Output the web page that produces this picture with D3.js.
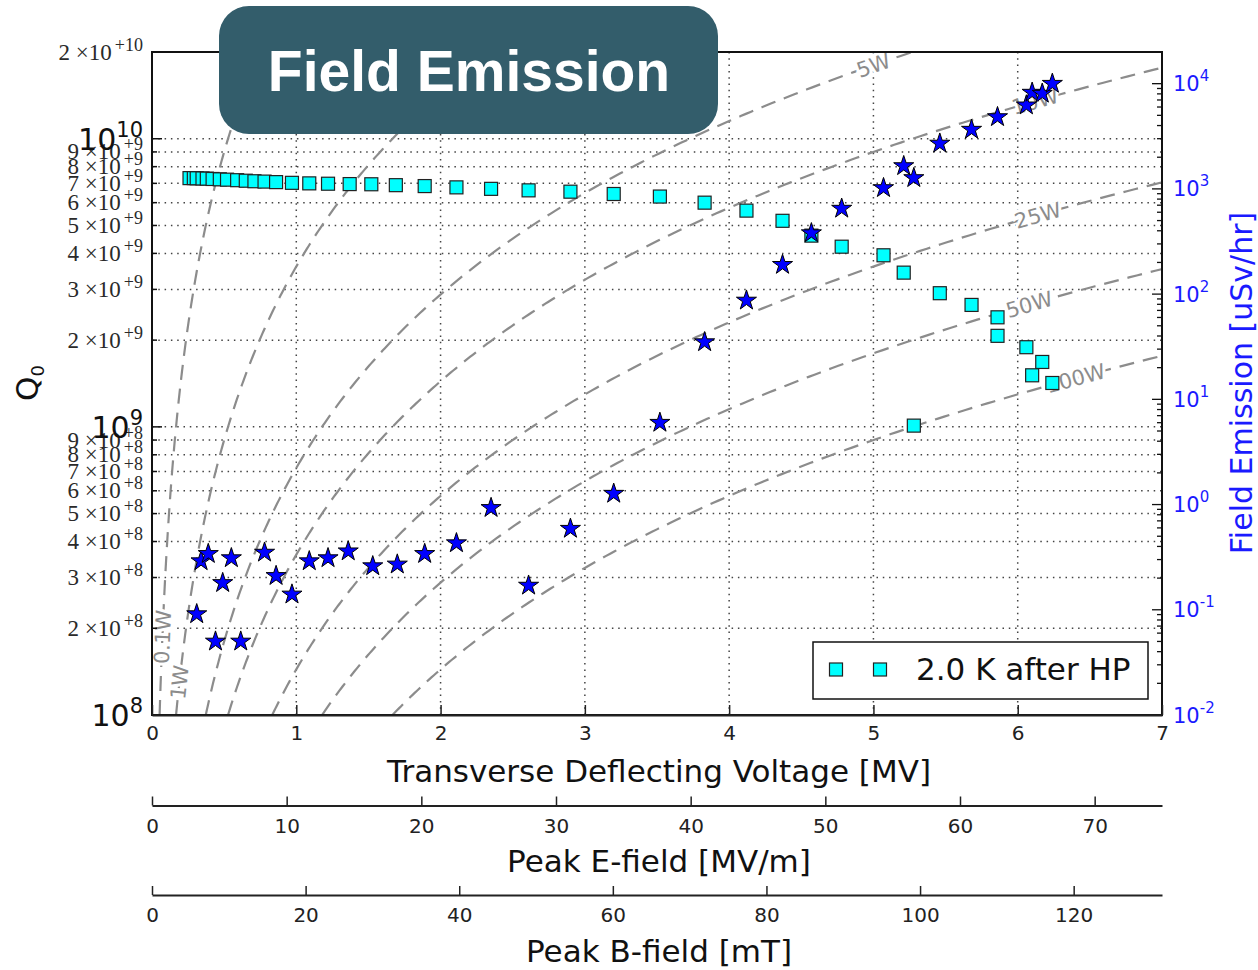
<!DOCTYPE html>
<html lang="en">
<head>
<meta charset="UTF-8" />
<script src="https://d3js.org/d3.v7.min.js"></script>
<title>Field Emission</title>
<style>
  body { margin: 0; background: #fff; }
  text { font-family: "DejaVu Sans", sans-serif; }
</style>
</head>
<body>
<script>
var width = 1258, height = 970;
var L = 152, R = 1162, T = 52, B = 715;

// Q0 measured at 2.0 K after HP (squares, left axis)
var qVolt = [0.26, 0.29, 0.31, 0.35, 0.38, 0.42, 0.47, 0.52, 0.59, 0.65, 0.71, 0.78, 0.86,
             0.97, 1.09, 1.22, 1.37, 1.52, 1.69, 1.89, 2.11, 2.35, 2.61, 2.90, 3.20, 3.52,
             3.83, 4.12, 4.37, 4.57, 4.78, 5.07, 5.21, 5.46, 5.68, 5.86, 5.86, 6.06, 6.17,
             6.10, 6.24, 5.28];
var qVal = [7.30e9, 7.30e9, 7.29e9, 7.28e9, 7.27e9, 7.25e9, 7.23e9, 7.21e9, 7.18e9, 7.15e9, 7.12e9, 7.10e9, 7.07e9,
            7.03e9, 7.00e9, 6.98e9, 6.96e9, 6.95e9, 6.90e9, 6.85e9, 6.78e9, 6.70e9, 6.62e9, 6.55e9, 6.43e9, 6.30e9,
            6.00e9, 5.63e9, 5.19e9, 4.61e9, 4.22e9, 3.94e9, 3.43e9, 2.91e9, 2.65e9, 2.40e9, 2.07e9, 1.89e9, 1.68e9,
            1.51e9, 1.42e9, 1.01e9];

// field emission radiation (stars, right axis)
var feVolt = [0.31, 0.34, 0.39, 0.44, 0.49, 0.55, 0.615, 0.78, 0.86, 0.97, 1.09, 1.22, 1.36,
              1.53, 1.70, 1.89, 2.11, 2.35, 2.61, 2.90, 3.20, 3.52, 3.83, 4.12, 4.37, 4.57,
              4.78, 5.07, 5.21, 5.28, 5.46, 5.68, 5.86, 6.06, 6.10, 6.17, 6.24];
var feVal = [0.091, 0.29, 0.34, 0.050, 0.18, 0.31, 0.050, 0.35, 0.21, 0.14, 0.29, 0.31, 0.36,
             0.26, 0.27, 0.34, 0.43, 0.93, 0.17, 0.59, 1.27, 6.0, 35, 87, 190, 380,
             650, 1020, 1650, 1270, 2700, 3660, 4820, 6230, 8230, 8050, 10000];

// iso-power lines: Q0 = kQ * V^2 / P
var powerLevels = [0.1, 1, 5, 10, 25, 50, 100];
var powerNames = ["0.1W", "1W", "5W", "10W", "25W", "50W", "100W"];
var labelVolt = [0.072, 0.19, 5.0, 6.12, 6.14, 6.08, 6.40];
var kQ = 3.6e9;

var voltTicks = [0, 1, 2, 3, 4, 5, 6, 7];
var eTicks = [0, 10, 20, 30, 40, 50, 60, 70];
var bTicks = [0, 20, 40, 60, 80, 100, 120];
var feTicks = [1e-2, 1e-1, 1e0, 1e1, 1e2, 1e3, 1e4];
var legendLabel = "2.0 K after HP";

var svg = d3.select("body").append("svg").attr("width", width).attr("height", height);

var x = d3.scaleLinear().domain([0, 7]).range([L, R]);
var xE = d3.scaleLinear().domain([0, 75]).range([L, R]);
var xB = d3.scaleLinear().domain([0, 131.5]).range([L, R]);
var yQ = d3.scaleLog().domain([1e8, 2e10]).range([B, T]);
var yF = d3.scaleLog().domain([1e-2, 2e4]).range([B, T]);

svg.append("clipPath").attr("id", "plot").append("rect")
  .attr("x", L).attr("y", T).attr("width", R - L).attr("height", B - T);

// dotted grid
var grid = svg.append("g").attr("stroke", "#444").attr("stroke-width", 1.5)
  .attr("stroke-dasharray", "1.5,4.8");
voltTicks.slice(1, -1).forEach(function(v) {
  grid.append("line").attr("x1", x(v)).attr("x2", x(v)).attr("y1", T).attr("y2", B);
});
var qTicks = yQ.ticks();
qTicks.forEach(function(q) {
  var yy = yQ(q);
  if (yy < B - 2 && yy > T + 2)
    grid.append("line").attr("x1", L).attr("x2", R).attr("y1", yy).attr("y2", yy);
});

// iso-power dashed curves
var curves = svg.append("g").attr("clip-path", "url(#plot)");
var qSteps = d3.range(0, 301).map(function(i) { return 1e8 * Math.pow(200, i / 300); });
var line = d3.line().x(function(d) { return x(d[0]); }).y(function(d) { return yQ(d[1]); });
powerLevels.forEach(function(p) {
  var pts = qSteps.map(function(q) { return [Math.sqrt(q * p / kQ), q]; });
  curves.append("path").attr("d", line(pts)).attr("fill", "none")
    .attr("stroke", "#8c8c8c").attr("stroke-width", 2.2).attr("stroke-dasharray", "15,9");
});
powerLevels.forEach(function(p, i) {
  var v = labelVolt[i];
  var px = x(v), py = yQ(kQ * v * v / p);
  var x1 = x(v - 0.002), y1 = yQ(kQ * (v - 0.002) * (v - 0.002) / p);
  var x2 = x(v + 0.002), y2 = yQ(kQ * (v + 0.002) * (v + 0.002) / p);
  var ang = Math.atan2(y2 - y1, x2 - x1) * 180 / Math.PI;
  curves.append("text").attr("transform", "translate(" + px + "," + py + ") rotate(" + ang + ")")
    .attr("text-anchor", "middle").attr("dy", "0.36em")
    .attr("font-size", 21).attr("fill", "#8c8c8c")
    .attr("stroke", "#fff").attr("stroke-width", 6).attr("paint-order", "stroke")
    .text(powerNames[i]);
});

// squares
svg.append("g").selectAll("rect").data(qVolt).join("rect")
  .attr("x", function(d) { return x(d) - 6.5; })
  .attr("y", function(d, i) { return yQ(qVal[i]) - 6.5; })
  .attr("width", 13).attr("height", 13)
  .attr("fill", "#00ffff").attr("stroke", "#222").attr("stroke-width", 1.2);

// stars
var star = d3.symbol().type(d3.symbolStar).size(125);
svg.append("g").selectAll("path").data(feVolt).join("path")
  .attr("d", star)
  .attr("transform", function(d, i) { return "translate(" + x(d) + "," + yF(feVal[i]) + ")"; })
  .attr("fill", "#0000ff").attr("stroke", "#000").attr("stroke-width", 1);

// frame
svg.append("rect").attr("x", L).attr("y", T).attr("width", R - L).attr("height", B - T)
  .attr("fill", "none").attr("stroke", "#111").attr("stroke-width", 2);

// left axis (Q0)
var leftAx = svg.append("g");
qTicks.forEach(function(q) {
  var e = Math.floor(Math.log10(q) + 1e-9);
  var m = Math.round(q / Math.pow(10, e));
  var yy = yQ(q);
  leftAx.append("line").attr("x1", L).attr("x2", L + (m === 1 ? 10 : 5))
    .attr("y1", yy).attr("y2", yy).attr("stroke", "#111").attr("stroke-width", 1.5);
  if (m === 1) {
    var t = leftAx.append("text").attr("x", 143).attr("y", yy + 11)
      .attr("text-anchor", "end").attr("fill", "#111").attr("font-size", 30);
    t.append("tspan").text("10");
    t.append("tspan").attr("font-size", 21).attr("dy", -13).text(e);
  } else {
    var t2 = leftAx.append("text").attr("x", 143).attr("y", yy + 7.5)
      .attr("text-anchor", "end").attr("fill", "#2a2a2a")
      .style("font-family", "'Liberation Serif', serif").attr("font-size", 23);
    t2.append("tspan").text(m + " \u00d710");
    t2.append("tspan").attr("font-size", 18).attr("dx", 3).attr("dy", -9).text("+" + e);
  }
});
var qLab = svg.append("text").attr("transform", "translate(38,383) rotate(-90)")
  .attr("text-anchor", "middle").attr("font-size", 31).attr("fill", "#111");
qLab.append("tspan").text("Q");
qLab.append("tspan").attr("font-size", 18).attr("dy", 6).text("0");

// right axis (field emission)
var rightAx = svg.append("g");
yF.ticks().forEach(function(f) {
  var yy = yF(f);
  var major = feTicks.some(function(t) { return Math.abs(yF(t) - yy) < 0.5; });
  rightAx.append("line").attr("x1", R).attr("x2", R - (major ? 10 : 5))
    .attr("y1", yy).attr("y2", yy).attr("stroke", "#111").attr("stroke-width", 1.3);
});
feTicks.forEach(function(f) {
  var yy = yF(f);
  var e = Math.round(Math.log10(f));
  var t = rightAx.append("text").attr("x", 1173).attr("y", yy + 7.5)
    .attr("fill", "#1a1aff").attr("font-size", 21);
  t.append("tspan").text("10");
  t.append("tspan").attr("font-size", 15).attr("dy", -10).text(e < 0 ? "-" + (-e) : e);
});
svg.append("text").attr("transform", "translate(1241,383) rotate(-90)")
  .attr("text-anchor", "middle").attr("dy", "0.36em").attr("font-size", 30)
  .attr("fill", "#1a1aff").text("Field Emission [uSv/hr]");

// bottom axes
var axMain = svg.append("g").attr("transform", "translate(0," + B + ")")
  .call(d3.axisBottom(x).tickValues(voltTicks).tickFormat(d3.format("d"))
    .tickSizeInner(-10).tickSizeOuter(0).tickPadding(11));
var axE = svg.append("g").attr("transform", "translate(0,805.5)")
  .call(d3.axisBottom(xE).tickValues(eTicks).tickFormat(d3.format("d"))
    .tickSizeInner(-9).tickSizeOuter(0).tickPadding(13));
var axB = svg.append("g").attr("transform", "translate(0,895)")
  .call(d3.axisBottom(xB).tickValues(bTicks).tickFormat(d3.format("d"))
    .tickSizeInner(-9).tickSizeOuter(0).tickPadding(13));
[axMain, axE, axB].forEach(function(a) {
  a.selectAll("text").attr("font-size", 20).attr("fill", "#222").style("font-family", "'DejaVu Sans', sans-serif");
  a.selectAll("line").attr("stroke", "#222").attr("stroke-width", 1.5);
  a.select(".domain").attr("stroke", "#222").attr("stroke-width", 2);
});
svg.append("text").attr("x", 659).attr("y", 771).attr("dy", "0.36em").attr("text-anchor", "middle")
  .attr("font-size", 31).attr("fill", "#111").text("Transverse Deflecting Voltage [MV]");
svg.append("text").attr("x", 659).attr("y", 861).attr("dy", "0.36em").attr("text-anchor", "middle")
  .attr("font-size", 31).attr("fill", "#111").text("Peak E-field [MV/m]");
svg.append("text").attr("x", 659).attr("y", 951).attr("dy", "0.36em").attr("text-anchor", "middle")
  .attr("font-size", 31).attr("fill", "#111").text("Peak B-field [mT]");

// legend
var leg = svg.append("g");
leg.append("rect").attr("x", 813).attr("y", 642).attr("width", 335).attr("height", 57)
  .attr("fill", "#fff").attr("stroke", "#111").attr("stroke-width", 1.5);
[836, 880].forEach(function(cx) {
  leg.append("rect").attr("x", cx - 6.5).attr("y", 663).attr("width", 13).attr("height", 13)
    .attr("fill", "#00ffff").attr("stroke", "#222").attr("stroke-width", 1.2);
});
leg.append("text").attr("x", 916).attr("y", 669).attr("dy", "0.36em")
  .attr("font-size", 31).attr("fill", "#111").text(legendLabel);

// title badge
svg.append("rect").attr("x", 219).attr("y", 6).attr("width", 499).attr("height", 128)
  .attr("rx", 30).attr("fill", "#335d6b");
svg.append("text").attr("x", 469).attr("y", 91).attr("text-anchor", "middle")
  .style("font-family", "'Liberation Sans', Arial, sans-serif").attr("font-weight", "bold")
  .attr("font-size", 57).attr("fill", "#fff").text("Field Emission");
</script>
</body>
</html>
